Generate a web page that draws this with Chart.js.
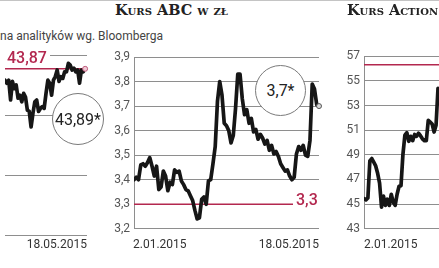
<!DOCTYPE html>
<html lang="pl">
<head>
<meta charset="utf-8">
<title>Kursy akcji</title>
<script src="https://cdn.jsdelivr.net/npm/chart.js@4.4.0/dist/chart.umd.min.js"></script>
<style>
    html, body {
        margin: 0;
        padding: 0;
        width: 439px;
        height: 268px;
        overflow: hidden;
        background: #fff;
    }
    body {
        position: relative;
        font-family: Roboto, sans-serif;
    }
    canvas {
        position: absolute;
    }
    .topline {
        position: absolute;
        left: 0; top: 0;
        width: 439px; height: 1px;
        background: #c4c4c4;
    }
    .title {
        position: absolute;
        top: 2px;
        font-family: 'DejaVu Serif', serif;
        font-weight: bold;
        font-variant: small-caps;
        font-size: 14.5px;
        line-height: 16px;
        color: #222;
        white-space: nowrap;
    }
    .subtitle {
        position: absolute;
        left: 0; top: 29px;
        font-size: 12px;
        line-height: 14px;
        color: #444;
        white-space: nowrap;
    }
    .date {
        position: absolute;
        top: 237px;
        width: 80px;
        font-size: 12px;
        line-height: 14px;
        color: #333;
        white-space: nowrap;
    }
    .red {
        position: absolute;
        font-size: 16px;
        line-height: 18px;
        font-weight: 500;
        color: #b3284f;
        background: #fff;
        padding: 0 3px;
    }
    .circle {
        position: absolute;
        box-sizing: border-box;
        border: 1px solid #7a7a7a;
        border-radius: 50%;
        background: #fff;
        display: flex;
        align-items: center;
        justify-content: center;
        font-size: 16px;
        color: #222;
    }
</style>
</head>
<body>
<div class="topline"></div>

<canvas id="left-chart" width="93" height="196" style="left:0;top:45px"></canvas>
<canvas id="abc-chart" width="225" height="195" style="left:100px;top:45px"></canvas>
<canvas id="action-chart" width="235" height="195" style="left:320px;top:45px"></canvas>

<div class="title" style="left:115px">Kurs ABC w zł</div>
<div class="title" style="left:347px">Kurs Action w zł</div>
<div class="subtitle">na analityków wg. Bloomberga</div>

<div class="red" style="left:4px;top:49px">43,87</div>
<div class="red" style="left:293px;top:191px">3,3</div>

<div class="circle" style="left:52px;top:93px;width:52px;height:52px">43,89*</div>
<div class="circle" style="left:255px;top:65px;width:51px;height:51px">3,7*</div>

<div class="date" style="left:7px;text-align:right">18.05.2015</div>
<div class="date" style="left:133px">2.01.2015</div>
<div class="date" style="left:239px;text-align:right">18.05.2015</div>
<div class="date" style="left:364px">2.01.2015</div>

<script>
// Values (2.01.2015 - 18.05.2015)

// Left panel, only its right end is visible
const leftValues = [
    43.68, 43.63, 43.68, 43.35, 43.66, 43.54, 43.6, 43.38, 43.43, 43.32,
    43.46, 43.4, 43.18, 43.16, 42.9, 43.13, 43.32, 43.35, 43.16, 43.21,
    43.24, 43.21, 43.46, 43.68, 43.63, 43.43, 43.68, 43.74, 43.85, 43.66,
    43.74, 43.71, 43.82, 43.82, 43.96, 43.93, 43.85, 43.88, 43.82, 43.85,
    43.63, 43.85, 43.82
];
const leftTicks = [41.1, 42.1, 43.1, 44.1];
const leftTarget = 43.87;

// Kurs ABC w zl
const abcValues = [
    3.40, 3.41, 3.40, 3.46, 3.465, 3.455, 3.47, 3.49, 3.455, 3.415,
    3.455, 3.36, 3.37, 3.435, 3.415, 3.355, 3.39, 3.38, 3.44, 3.43,
    3.435, 3.395, 3.38, 3.36, 3.355, 3.335, 3.315, 3.275, 3.24, 3.245,
    3.32, 3.33, 3.30, 3.395, 3.40, 3.465, 3.535, 3.72, 3.80, 3.745,
    3.63, 3.62, 3.60, 3.55, 3.58, 3.69, 3.83, 3.83, 3.73, 3.665,
    3.685, 3.63, 3.65, 3.595, 3.605, 3.565, 3.585, 3.57, 3.545, 3.56,
    3.52, 3.54, 3.505, 3.515, 3.495, 3.465, 3.45, 3.435, 3.44, 3.415,
    3.40, 3.41, 3.505, 3.535, 3.52, 3.54, 3.50, 3.495, 3.56, 3.79,
    3.77, 3.705
];
const abcTicks = [3.2, 3.3, 3.4, 3.5, 3.6, 3.7, 3.8, 3.9];
const abcLevel = 3.3;
const abcTarget = 3.7;

// Kurs Action w zl, cut at the right edge
const actionValues = [
    45.45, 45.35, 45.5, 48.5, 48.7, 48.4, 48.1, 47.5, 46.7, 44.75,
    45.65, 44.9, 45.4, 44.9, 45.8, 45.15, 44.9, 45.8, 46.45, 46.5,
    49.05, 50.6, 50.8, 50.1, 50.5, 50.15, 50.65, 50.5, 50.75, 50.55,
    50.3, 50.15, 50.15, 51.8, 51.65, 51.5, 50.85, 51.4, 54.4
];
const actionTicks = [43, 45, 47, 49, 51, 53, 55, 57];
const actionLevel = 56.3;

const lineColor = '#161616';
const redColor = '#b3284f';
const gridColor = '#8e8e8e';

// Build one panel: black price line, red reference line, optional end dot
function createPanel(canvasId, values, ticks, cfg) {
    const ctx = document.getElementById(canvasId).getContext('2d');

    const datasets = [
        {
            data: values.map((v, i) => ({ x: i, y: v })),
            borderColor: lineColor,
            borderWidth: 3.7,
            borderJoinStyle: 'round',
            borderCapStyle: 'round',
            pointRadius: 0,
            tension: 0,
            order: 0
        },
        {
            data: [{ x: 0, y: cfg.level }, { x: cfg.levelEnd, y: cfg.level }],
            borderColor: redColor,
            borderWidth: 1.5,
            pointRadius: 0,
            order: 1
        }
    ];

    if (cfg.dot) {
        datasets.push({
            data: [{ x: cfg.dot.x, y: cfg.dot.y }],
            showLine: false,
            pointRadius: 2.5,
            pointBorderWidth: 1,
            pointBackgroundColor: cfg.dot.fill,
            pointBorderColor: cfg.dot.stroke,
            clip: false,
            order: -1
        });
    }

    return new Chart(ctx, {
        type: 'line',
        data: { datasets: datasets },
        options: {
            responsive: false,
            animation: false,
            events: [],
            layout: { padding: cfg.padding },
            plugins: {
                legend: { display: false },
                tooltip: { enabled: false }
            },
            scales: {
                x: {
                    type: 'linear',
                    display: false,
                    min: 0,
                    max: cfg.xMax
                },
                y: {
                    min: ticks[0],
                    max: ticks[ticks.length - 1],
                    afterBuildTicks: scale => {
                        scale.ticks = ticks.map(v => ({ value: v }));
                    },
                    afterFit: scale => {
                        scale.width = cfg.axisWidth;
                    },
                    grid: {
                        color: gridColor,
                        lineWidth: 1,
                        drawTicks: false
                    },
                    border: {
                        display: cfg.showAxis,
                        color: gridColor,
                        width: 1
                    },
                    ticks: {
                        display: cfg.showAxis,
                        padding: 4,
                        color: '#555',
                        font: { family: 'Roboto', size: 12 },
                        callback: v => String(v).replace('.', ',')
                    }
                }
            }
        }
    });
}

createPanel('left-chart', leftValues, leftTicks, {
    level: leftTarget,
    levelEnd: 43,
    xMax: 44,
    axisWidth: 0,
    showAxis: false,
    padding: { top: 10, right: 6, bottom: 6, left: 0 },
    dot: { x: 43, y: leftTarget, fill: '#f0c8d4', stroke: '#c06080' }
});

createPanel('abc-chart', abcValues, abcTicks, {
    level: abcLevel,
    levelEnd: abcValues.length,
    xMax: abcValues.length,
    axisWidth: 34,
    showAxis: true,
    padding: { top: 12, right: 6, bottom: 6, left: 0 },
    dot: { x: abcValues.length, y: abcTarget, fill: '#d8d8d8', stroke: '#555' }
});

createPanel('action-chart', actionValues, actionTicks, {
    level: actionLevel,
    levelEnd: 95,
    xMax: 95,
    axisWidth: 44,
    showAxis: true,
    padding: { top: 10, right: 6, bottom: 6, left: 0 }
});
</script>
</body>
</html>
